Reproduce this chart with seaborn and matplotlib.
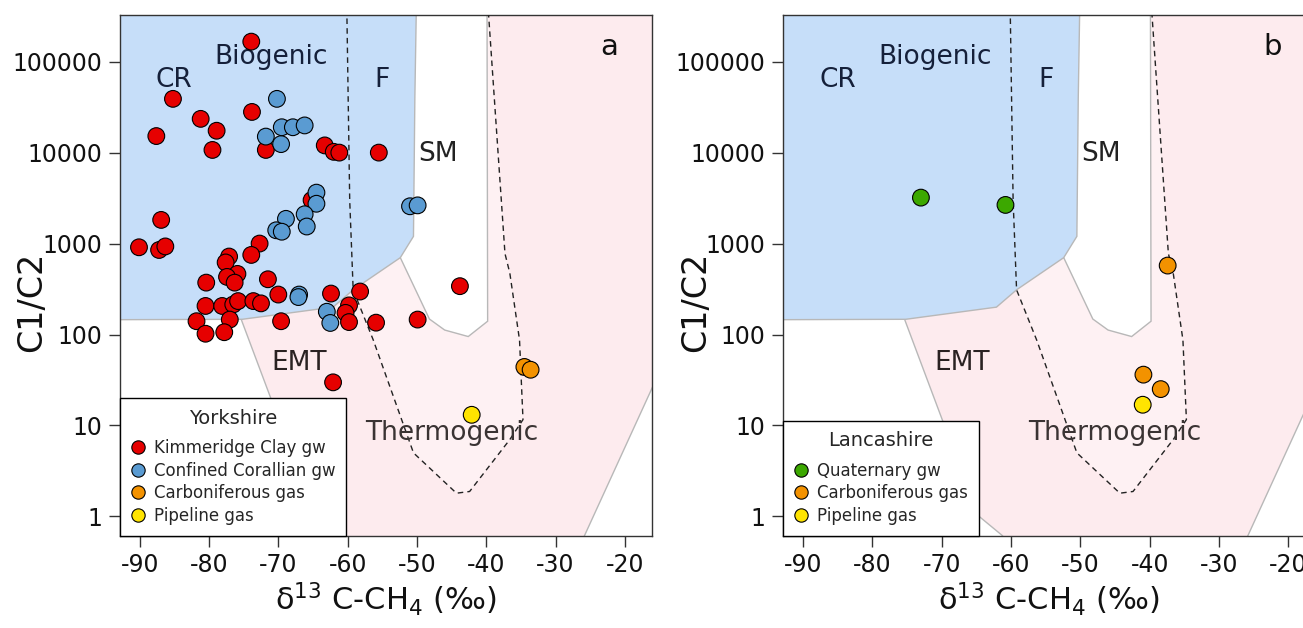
import numpy as np
import pandas as pd
import matplotlib
matplotlib.use("Agg")
import matplotlib.pyplot as plt
import seaborn as sns
from matplotlib.lines import Line2D

# ---------------- data ----------------
# Yorkshire (panel a)
kim_x = [-73.9, -85.2, -81.2, -73.8, -87.6, -78.9, -79.5, -71.8, -63.3, -62.0, -61.2, -55.5,
         -86.9, -90.1, -87.2, -86.3, -72.7, -73.9, -77.1, -77.6, -75.9, -77.4, -76.3, -80.4,
         -71.5, -70.0, -62.4, -58.2, -43.8, -65.2, -80.5, -78.1, -76.5, -75.8, -73.6, -72.5,
         -59.8, -60.3, -59.8, -55.9, -49.9, -81.8, -77.0, -80.5, -77.8, -69.6, -62.1]
kim_y = [166000, 39000, 23500, 28000, 15200, 17400, 10700, 10700, 12000, 10200, 10000, 10000,
         1820, 910, 850, 930, 1000, 750, 720, 620, 464, 430, 372, 372,
         405, 275, 282, 297, 340, 3000, 206, 206, 214, 233, 233, 220,
         209, 173, 137, 135, 146, 140, 146, 102, 106, 140, 29.8]
cor_x = [-70.2, -71.8, -69.6, -69.5, -67.9, -66.2, -64.5, -64.5, -66.2, -68.9, -65.9, -70.3,
         -69.5, -51.0, -49.9, -67.0, -67.1, -63.0, -62.5]
cor_y = [39000, 15000, 12400, 19000, 19000, 19900, 3630, 2740, 2100, 1870, 1540, 1400,
         1350, 2570, 2630, 275, 258, 178, 134]
ycarb_x = [-34.5, -33.6]
ycarb_y = [44, 41]
ypipe_x = [-42.1]
ypipe_y = [13.1]

# Lancashire (panel b)
quat_x = [-73.0, -60.8]
quat_y = [3200, 2660]
lcarb_x = [-37.4, -40.9, -38.4]
lcarb_y = [573, 36.2, 25.1]
lpipe_x = [-41.0]
lpipe_y = [16.9]

# Genetic-field boundaries (delta13C, C1/C2)
bio_x = [-100, -50.0, -50.3, -50.5, -52.4, -59.2, -62.1, -75.2, -100]
bio_y = [1e6, 1e6, 4e4, 1200, 700, 310, 200, 147, 145]
thermo_x = [-39.9, -5, -5, -26.5, -60.0, -61.3, -64.6, -70.0, -75.4, -52.4,
            -48.2, -46.0, -42.6, -39.8]
thermo_y = [1e6, 1e6, 1800, 0.475, 0.475, 0.62, 1.0, 12, 150, 700,
            148, 112, 95, 140]
dash_x = [-60.2, -59.7, -59.2, -56.3, -50.5, -44.3, -42.4, -36.6, -34.7, -35.2, -36.6, -37.3, -40.1]
dash_y = [1e6, 3000, 310, 87, 5.0, 1.8, 1.88, 7.0, 11.6, 87, 473, 776, 1e6]

x_ticks = [-90, -80, -70, -60, -50, -40, -30, -20]
y_ticks = [1, 10, 100, 1000, 10000, 100000]
y_ticklabels = ["1", "10", "100", "1000", "10000", "100000"]

# ---------------- style ----------------
sns.set_theme(style="ticks")
plt.rcParams["font.family"] = ["DejaVu Sans"]
plt.rcParams["mathtext.fontset"] = "dejavusans"
plt.rcParams["axes.unicode_minus"] = False

palette = {
    "Kimmeridge Clay gw": "#E60000",
    "Confined Corallian gw": "#5A9BD2",
    "Carboniferous gas": "#F39200",
    "Pipeline gas": "#FFE400",
    "Quaternary gw": "#3CA800",
}

df_a = pd.concat([
    pd.DataFrame({"d13C": kim_x, "ratio": kim_y, "group": "Kimmeridge Clay gw"}),
    pd.DataFrame({"d13C": cor_x, "ratio": cor_y, "group": "Confined Corallian gw"}),
    pd.DataFrame({"d13C": ycarb_x, "ratio": ycarb_y, "group": "Carboniferous gas"}),
    pd.DataFrame({"d13C": ypipe_x, "ratio": ypipe_y, "group": "Pipeline gas"}),
], ignore_index=True)
df_b = pd.concat([
    pd.DataFrame({"d13C": quat_x, "ratio": quat_y, "group": "Quaternary gw"}),
    pd.DataFrame({"d13C": lcarb_x, "ratio": lcarb_y, "group": "Carboniferous gas"}),
    pd.DataFrame({"d13C": lpipe_x, "ratio": lpipe_y, "group": "Pipeline gas"}),
], ignore_index=True)

W, H = 1303, 628
fig = plt.figure(figsize=(W / 100, H / 100), dpi=100)
ax_a = fig.add_axes([120 / W, 92.3 / H, 531.5 / W, 520.7 / H])
ax_b = fig.add_axes([783.4 / W, 92.3 / H, 531.5 / W, 520.7 / H])

BLUE = "#C6DEF9"
PINK = "#FDEBEE"
PINK_LIGHT = "#FEF1F3"
EDGE = "#B8B8B8"


def draw_panel(ax, df, groups, title, letter):
    ax.set_yscale("log")
    thermo_patch = ax.fill(thermo_x, thermo_y, facecolor=PINK, edgecolor="none",
                           zorder=1)[0]
    inner = ax.fill(dash_x, dash_y, facecolor=PINK_LIGHT, edgecolor="none",
                    zorder=1.1)[0]
    inner.set_clip_path(thermo_patch)
    ax.fill(thermo_x, thermo_y, facecolor="none", edgecolor=EDGE, lw=1, zorder=1.2)
    ax.fill(bio_x, bio_y, facecolor=BLUE, edgecolor=EDGE, lw=1, zorder=2)
    ax.plot(dash_x, dash_y, color="#222222", lw=1, ls=(0, (4, 3)), zorder=3)

    sns.scatterplot(data=df, x="d13C", y="ratio", hue="group", palette=palette,
                    s=145, edgecolor="black", linewidth=0.8, legend=False,
                    ax=ax, zorder=5)

    tkw = dict(fontsize=19, ha="center", va="center", zorder=4)
    ax.text(-71.0, 10 ** 5.055, "Biogenic", color="#15203A", **tkw)
    ax.text(-85.0, 10 ** 4.80, "CR", color="#15203A", **tkw)
    ax.text(-55.0, 10 ** 4.80, "F", color="#15203A", **tkw)
    ax.text(-47.0, 10 ** 3.99, "SM", color="#222222", **tkw)
    ax.text(-67.0, 10 ** 1.686, "EMT", color="#2A2222", **tkw)
    ax.text(-45.0, 10 ** 0.917, "Thermogenic", color="#3A3333", **tkw)
    ax.text(-22.2, 10 ** 5.165, letter, fontsize=21, ha="center", va="center",
            color="#111111", zorder=4)

    ax.set_xlim(-92.84, -16.16)
    ax.set_ylim(10 ** -0.212, 10 ** 5.513)
    ax.set_xticks(x_ticks)
    ax.set_xticklabels([str(v) for v in x_ticks])
    ax.set_yticks(y_ticks)
    ax.set_yticklabels(y_ticklabels)
    ax.yaxis.set_minor_locator(matplotlib.ticker.NullLocator())
    ax.tick_params(axis="both", direction="out", length=7.7, width=1,
                   labelsize=17, pad=5, color="#333333", labelcolor="#111111",
                   top=False, right=False)
    for sp in ax.spines.values():
        sp.set_visible(True)
        sp.set_color("#333333")
        sp.set_linewidth(1)

    ax.set_xlabel("δ$^{13}$ C-CH$_4$ (‰)", fontsize=22, color="#111111")
    ax.set_ylabel("C1/C2", fontsize=24, color="#111111")
    ax.xaxis.set_label_coords(0.5, -0.085)
    ax.yaxis.set_label_coords(-0.135, 0.449)

    handles = [Line2D([], [], marker="o", ls="", markerfacecolor=palette[g],
                      markeredgecolor="black", markeredgewidth=0.8, markersize=9.6)
               for g in groups]
    leg = ax.legend(handles, groups, title=title, loc="lower left",
                    bbox_to_anchor=(0, 0), borderaxespad=0, frameon=True,
                    fancybox=False, edgecolor="black", framealpha=1,
                    fontsize=12, title_fontsize=14, handlelength=0.8,
                    handletextpad=0.57, borderpad=0.65, labelspacing=0.28)
    leg._legend_box.sep = 8
    leg.get_frame().set_linewidth(1)
    leg.set_zorder(10)


draw_panel(ax_a, df_a,
           ["Kimmeridge Clay gw", "Confined Corallian gw", "Carboniferous gas", "Pipeline gas"],
           "Yorkshire", "a")
draw_panel(ax_b, df_b,
           ["Quaternary gw", "Carboniferous gas", "Pipeline gas"],
           "Lancashire", "b")

fig.savefig("out.png", dpi=100)
